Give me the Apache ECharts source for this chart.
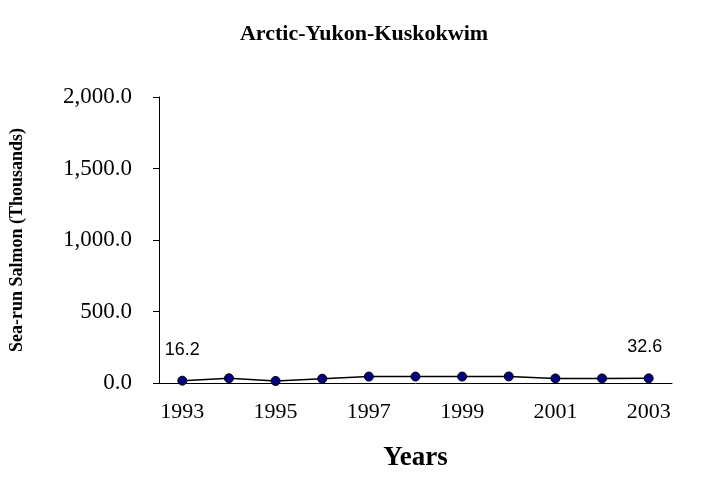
<!DOCTYPE html>
<html>
<head>
<meta charset="utf-8">
<script src="https://cdn.jsdelivr.net/npm/echarts@6/dist/echarts.min.js"></script>
<style>
    html, body { margin: 0; padding: 0; background: #fff; }
    #chart { width: 728px; height: 489px; }
</style>
</head>
<body>
<div id="chart"></div>
<script>
// data
const years = ['1993', '1994', '1995', '1996', '1997', '1998', '1999', '2000', '2001', '2002', '2003']
const salmon = [16.2, 33, 14, 30, 45, 45, 45, 46, 32, 32, 32.6]
const yTicks = [0, 500, 1000, 1500, 2000]

const chart = echarts.init(document.getElementById('chart'))
const serif = 'Liberation Serif, Times New Roman, serif'

chart.setOption({
    animation: false,
    title: {
        text: 'Arctic-Yukon-Kuskokwim',
        left: 'center',
        top: 18,
        textStyle: { fontFamily: serif, fontWeight: 'bold', fontSize: 22, color: '#000' }
    },
    grid: { left: 158, right: 56, top: 97, bottom: 106 },
    xAxis: {
        type: 'category',
        data: years,
        boundaryGap: true,
        name: 'Years',
        nameLocation: 'middle',
        nameGap: 62,
        nameTextStyle: { fontFamily: serif, fontWeight: 'bold', fontSize: 27, color: '#000' },
        axisLine: { lineStyle: { color: '#000', width: 1 } },
        axisTick: { interval: 0, length: 9, lineStyle: { color: '#000' } },
        axisLabel: { interval: 1, margin: 18, fontFamily: serif, fontSize: 22, color: '#000' }
    },
    yAxis: {
        type: 'value',
        min: yTicks[0],
        max: yTicks[yTicks.length - 1],
        interval: 500,
        name: 'Sea-run Salmon (Thousands)',
        nameLocation: 'middle',
        nameGap: 133,
        nameTextStyle: { fontFamily: serif, fontWeight: 'bold', fontSize: 18, color: '#000' },
        splitLine: { show: false },
        axisLine: { show: true, lineStyle: { color: '#000', width: 1 } },
        axisTick: { show: true, length: 6, lineStyle: { color: '#000' } },
        axisLabel: {
            margin: 27,
            fontFamily: serif,
            fontSize: 23,
            color: '#000',
            formatter: v => v.toLocaleString('en-US', { minimumFractionDigits: 1, maximumFractionDigits: 1 })
        }
    },
    series: [{
        type: 'line',
        data: salmon.map((v, i) => {
            const last = i === salmon.length - 1
            if (i === 0 || last) {
                return {
                    value: v,
                    label: {
                        show: true,
                        position: 'top',
                        distance: 17,
                        offset: last ? [-4, 0] : [0, 0],
                        fontFamily: 'Liberation Sans, Arial, sans-serif',
                        fontSize: 18,
                        color: '#000',
                        formatter: p => p.value.toFixed(1)
                    }
                }
            }
            return v
        }),
        symbol: 'circle',
        symbolSize: 9,
        lineStyle: { color: '#000', width: 1.5 },
        itemStyle: { color: '#000080', borderColor: '#000', borderWidth: 1 }
    }]
})
</script>
</body>
</html>
